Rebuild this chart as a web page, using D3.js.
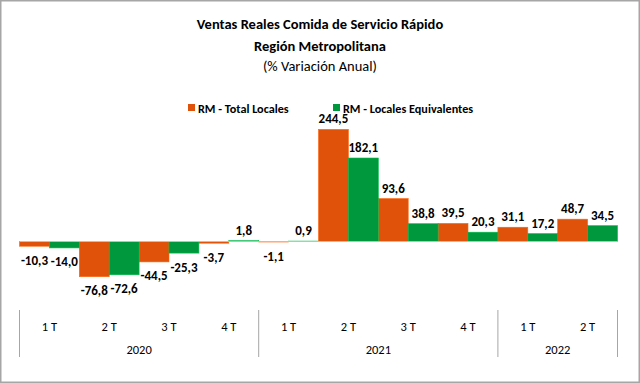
<!DOCTYPE html>
<html><head><meta charset="utf-8">
<script src="https://cdn.jsdelivr.net/npm/d3@7"></script>
<style>
html,body{margin:0;padding:0;background:#fff;}
svg{display:block;font-family:Carlito,Lato,"Open Sans",sans-serif;}
</style></head>
<body>
<svg id="chart" width="640" height="383"></svg>
<script>
const years = ["2020", "2021", "2022"];
const quarters = ["1 T","2 T","3 T","4 T","1 T","2 T","3 T","4 T","1 T","2 T"];
const quarterYear = ["2020","2020","2020","2020","2021","2021","2021","2021","2022","2022"];
const seriesNames = ["RM - Total Locales", "RM - Locales Equivalentes"];
const totalLocales = [-10.3, -76.8, -44.5, -3.7, -1.1, 244.5, 93.6, 39.5, 31.1, 48.7];
const localesEquivalentes = [-14.0, -72.6, -25.3, 1.8, 0.9, 182.1, 38.8, 20.3, 17.2, 34.5];
const colors = ["#E0520A", "#00983D"];

const svg = d3.select("#chart");
const W = 640, H = 383;
svg.append("rect").attr("x",0.75).attr("y",0.75).attr("width",W-1.5).attr("height",H-1.5)
  .attr("fill","#fff").attr("stroke","#a6a6a6").attr("stroke-width",1.5);

const idx = d3.range(quarters.length);
const x = d3.scaleBand().domain(idx).range([19.5, 617.5]).paddingInner(0).paddingOuter(0);
const xs = d3.scaleBand().domain([0,1]).range([0, x.bandwidth()]).padding(0);
const y = d3.scaleLinear().domain([-80, 250]).range([241.5 + 80*0.4585, 241.5 - 250*0.4585]);

// title
const title = svg.append("g").attr("text-anchor","middle").attr("fill","#000");
title.append("text").attr("x",320).attr("y",29).attr("font-size",14.5).attr("font-weight","bold").text("Ventas Reales Comida de Servicio Rápido");
title.append("text").attr("x",320).attr("y",50.5).attr("font-size",14.5).attr("font-weight","bold").text("Región Metropolitana");
title.append("text").attr("x",320).attr("y",71).attr("font-size",14.5).text("(% Variación Anual)");

// legend
const leg = svg.append("g").attr("font-size",12.2).attr("font-weight","bold");
const legX = [188, 333];
seriesNames.forEach((n,i)=>{
  leg.append("rect").attr("x",legX[i]).attr("y",104).attr("width",7).attr("height",7).attr("fill",colors[i]);
  leg.append("text").attr("x",legX[i]+10).attr("y",112.5).text(n);
});

const series = [totalLocales, localesEquivalentes];
const gBars = svg.append("g");
series.forEach((vals,si)=>{
  gBars.selectAll(null).data(idx).enter().append("rect")
    .attr("x", i => x(i) + xs(si))
    .attr("width", xs.bandwidth())
    .attr("y", i => y(Math.max(0, vals[i])))
    .attr("height", i => Math.abs(y(vals[i]) - y(0)))
    .attr("fill", colors[si])
    .attr("stroke", d3.color(colors[si]).brighter(0.6))
    .attr("stroke-width", 0.6);
});

// zero line
svg.append("line").attr("x1",19.5).attr("x2",617.5).attr("y1",y(0)).attr("y2",y(0))
  .attr("stroke","#bfbfbf").attr("stroke-width",1);

// labels
const fmt = v => d3.format(".1f")(v).replace(".", ",").replace("−","-");
const gLab = svg.append("g").attr("font-size",13).attr("font-weight","bold").attr("text-anchor","middle");
series.forEach((vals,si)=>{
  gLab.selectAll(null).data(idx).enter().append("text")
    .attr("x", i => x(i) + xs(si) + xs.bandwidth()/2)
    .attr("y", i => vals[i] >= 0 ? y(vals[i]) - 6 : y(vals[i]) + 18.5)
    .text(i => fmt(vals[i]));
});

// category axis
const gAx = svg.append("g").attr("font-size",12.5).attr("text-anchor","middle").attr("fill","#000");
gAx.selectAll(null).data(idx).enter().append("text")
  .attr("x", i => x(i) + x.bandwidth()/2).attr("y", 331).text(i => quarters[i]);
const yearGroups = years.map(yr => {
  const ii = idx.filter(i => quarterYear[i] === yr);
  return {yr, x0: x(ii[0]), x1: x(ii[ii.length-1]) + x.bandwidth()};
});
gAx.selectAll(null).data(yearGroups).enter().append("text")
  .attr("x", d => (d.x0 + d.x1)/2).attr("y", 353.5).text(d => d.yr);
const seps = [yearGroups[0].x0].concat(yearGroups.map(d => d.x1));
svg.selectAll(null).data(seps).enter().append("line")
  .attr("x1", d => d).attr("x2", d => d).attr("y1", 310).attr("y2", 357)
  .attr("stroke","#a6a6a6").attr("stroke-width",1);
</script>
</body></html>
